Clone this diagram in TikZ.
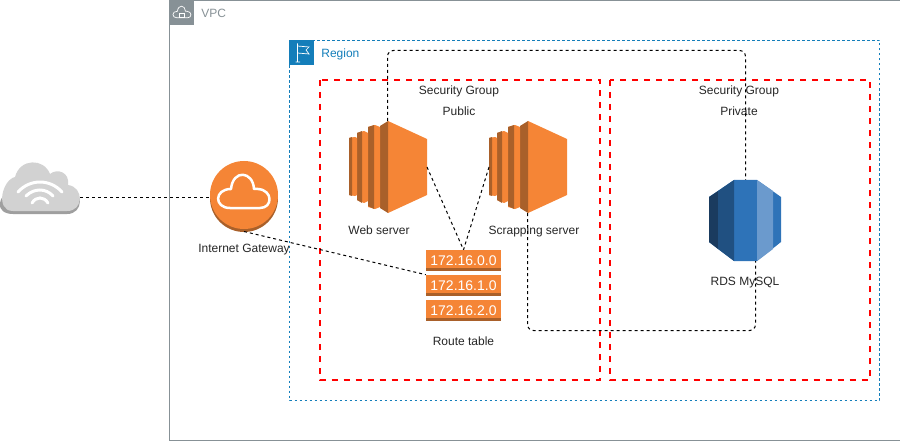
\documentclass[tikz,border=0pt]{standalone}
\usepackage{fontspec}
\setmainfont{Liberation Sans}
\usepackage{tikz}
\usetikzlibrary{positioning}
\definecolor{aws-orange}{HTML}{F58536}
\definecolor{aws-orange-dark}{HTML}{A9602A}
\definecolor{aws-blue}{HTML}{147EBA}
\definecolor{aws-grey}{HTML}{879196}
\definecolor{rds-darkest}{HTML}{1A3B5F}
\definecolor{rds-dark}{HTML}{205081}
\definecolor{rds-mid}{HTML}{2E73B8}
\definecolor{rds-light}{HTML}{6B9ACD}
\tikzset{vpc-line/.style={line width=1pt, color=aws-grey}}
\tikzset{region-box/.style={draw=aws-blue, line width=1pt, dash pattern=on 2.5pt off 2.5pt}}
\tikzset{group-box/.style={draw=red, line width=2pt, dash pattern=on 6pt off 6pt}}
\tikzset{link-line/.style={line width=1pt, dash pattern=on 3pt off 3pt, rounded corners=6pt}}
\tikzset{icon-node/.style={inner sep=0, outer sep=0, minimum width=#1}}
\tikzset{aws-label/.style={inner sep=0, font=\fontsize{12}{14}\selectfont, text=black!85}}
\tikzset{header-box/.style={inner sep=0, minimum width=25pt, minimum height=25pt}}
\tikzset{route-node/.style={inner sep=0, minimum width=75pt, minimum height=21pt, fill=aws-orange, text=white, font=\fontsize{14}{16}\selectfont}}
\tikzset{pics/ec2-icon/.style={code={
    \fill[aws-orange] (0,-46) -- (39,-28) -- (39,28) -- (0,46) -- cycle;
    \fill[aws-orange-dark] (0,-46) -- (-8,-41) -- (-8,41) -- (0,46) -- cycle;
    \fill[aws-orange] (-20,-40) -- (-13,-42) -- (-8,-40) -- (-8,40) -- (-13,42) -- (-20,40) -- cycle;
    \fill[aws-orange-dark] (-20,-40) -- (-14,-42) -- (-14,42) -- (-20,39) -- cycle;
    \fill[aws-orange] (-31,-34) -- (-24,-36) -- (-20,-34) -- (-20,34) -- (-24,36) -- (-31,33) -- cycle;
    \fill[aws-orange-dark] (-31,-34) -- (-26,-36) -- (-26,36) -- (-31,33) -- cycle;
    \fill[aws-orange] (-39,-29) -- (-33,-30) -- (-31,-29) -- (-31,28) -- (-33,29) -- (-39,28) -- cycle;
    \fill[aws-orange-dark] (-39,-29) -- (-36,-30) -- (-36,29) -- (-39,28) -- cycle;
}}}
\tikzset{pics/rds-icon/.style={code={
    \fill[rds-mid] (-36,-23.5) -- (-11,-40.5) -- (12,-40.5) -- (36,-23.5) -- (36,21.5) -- (12,40.5) -- (-11,40.5) -- (-36,21.5) -- cycle;
    \fill[rds-darkest] (-36,-23.5) -- (-27,-29.5) -- (-27,28.5) -- (-36,21.5) -- cycle;
    \fill[rds-dark] (-27,-29.5) -- (-11,-40.5) -- (-11,40.5) -- (-27,28.5) -- cycle;
    \fill[rds-light] (12,-40.5) -- (28,-29.5) -- (28,28.5) -- (12,40.5) -- cycle;
}}}
\tikzset{pics/cloud-outline/.style={code={
    \draw[white, line join=round] (-14,11) -- (16,11) .. controls (29,11) and (29,-7) .. (14,-8)
        -- (10,-8) .. controls (9,-26) and (-11,-28) .. (-13,-8)
        .. controls (-30,-8) and (-30,11) .. (-14,11) -- cycle;
}}}
\tikzset{pics/wifi-cloud/.style={code={
    \fill[gray!75] (-27,26) -- (27,26) .. controls (44,26) and (44,2) .. (28,0) -- (-25,0) .. controls (-45,8) and (-45,26) .. (-27,26) -- cycle;
    \fill[gray!35] (-27,23) -- (27,23) .. controls (44,23) and (44,-1) .. (28,-3) .. controls (30,-16) and (17,-20) .. (10,-14)
        .. controls (4,-30) and (-20,-30) .. (-25,-11) .. controls (-38,-8) and (-45,23) .. (-27,23) -- cycle;
    \draw[white, line width=3pt, line cap=round] (-22,4) .. controls (-10,-9.3) and (10,-9.3) .. (22,4);
    \draw[white, line width=3pt, line cap=round] (-14,8) .. controls (-6,0) and (6,0) .. (13,8);
    \draw[white, line width=3pt, line cap=round] (-8,15) .. controls (-4,8.3) and (4,8.3) .. (8,15);
}}}
\begin{document}
\begin{tikzpicture}[x=1pt, y=-1pt]
            \useasboundingbox (0,0) rectangle (900,441);

            \draw[vpc-line] (900,0.5) -- (169.5,0.5) -- (169.5,440.5) -- (900,440.5);
            \node[header-box, fill=aws-grey] (vpcHead) at (181.5,12.5) {};
            \pic[scale=0.35, line width=0.7pt] at (182,14) {cloud-outline};
            \draw[white, line width=0.6pt] (179.5,13) rectangle (184.5,17);
            \node[aws-label, right=7pt of vpcHead, yshift=-1pt, text=aws-grey] (vpcText) {VPC};

            \draw[region-box] (289.5,40.5) rectangle (879.5,400.5);
            \node[header-box, fill=aws-blue] (regionHead) at (301.5,53) {};
            \draw[white, line width=0.7pt] (297.5,43.5) -- (297.5,62) (295.5,62) -- (300,62)
                (297.5,46) -- (309,47) -- (306,50) -- (309,54) -- (297.5,53);
            \node[aws-label, right=7pt of regionHead, yshift=-1.5pt, text=aws-blue] (regionText) {Region};

            \draw[group-box] (319.5,80) rectangle (599.5,380);
            \draw[group-box] (609.5,80) rectangle (869.5,380);

            \node[aws-label] (publicTitle) at (459,91.5) {Security Group};
            \node[aws-label, below=9pt of publicTitle] (publicText) {Public};
            \node[aws-label] (privateTitle) at (739,91.5) {Security Group};
            \node[aws-label, below=9pt of privateTitle] (privateText) {Private};

            \node[icon-node=80pt, minimum height=52pt] (net) at (40,188) {};
            \pic at (net) {wifi-cloud};

            \node[icon-node=68pt, circle] (igw) at (244,197.5) {};
            \fill[aws-orange-dark] (244,198) circle (34);
            \fill[aws-orange] (244,195) circle (34);
            \pic[line width=2.5pt] at (244,197) {cloud-outline};
            \node[aws-label, below=12pt of igw, text=black!85] (igwText) {Internet Gateway};

            \node[icon-node=78pt, minimum height=92pt] (web) at (388,167) {};
            \pic at (web) {ec2-icon};
            \node[aws-label, below=13pt of web, xshift=-9pt] (webText) {Web server};

            \node[icon-node=78pt, minimum height=92pt] (scrap) at (528,167) {};
            \pic at (scrap) {ec2-icon};
            \node[aws-label, below=13pt of scrap, xshift=6pt] (scrapText) {Scrapping server};

            \node[route-node] (rt0) at (463.5,260.5) {172.16.0.0};
            \node[route-node, below=3.5pt of rt0] (rt1) {172.16.1.0};
            \node[route-node, below=3.5pt of rt1] (rt2) {172.16.2.0};
            \foreach \rt in {rt0, rt1, rt2} {
                \fill[aws-orange-dark] (\rt.south west) rectangle ([yshift=3pt]\rt.south east);
            }
            \node[aws-label, below=16pt of rt2] (rtText) {Route table};

            \node[icon-node=72pt, minimum height=81pt] (rds) at (745,220.5) {};
            \pic at (rds) {rds-icon};
            \node[aws-label, below=16pt of rds] (rdsText) {RDS MySQL};

            \coordinate (topBend) at (566,50.5);
            \coordinate (bottomBend) at (640,330.5);

            \draw[link-line] ([yshift=-9.5pt]net.east) -- (igw.west);
            \draw[link-line] (igw.south) -- (rt1.north west);
            \draw[link-line] (web.east) -- (rt0.north);
            \draw[link-line] (scrap.west) -- (rt0.north);
            \draw[link-line] ([xshift=-0.5pt]web.north) |- (topBend) -| ([xshift=0.5pt]rds.north);
            \draw[link-line] ([xshift=-0.5pt]scrap.south) |- (bottomBend) -| ([xshift=10.5pt]rds.south);

        \end{tikzpicture}
\end{document}
